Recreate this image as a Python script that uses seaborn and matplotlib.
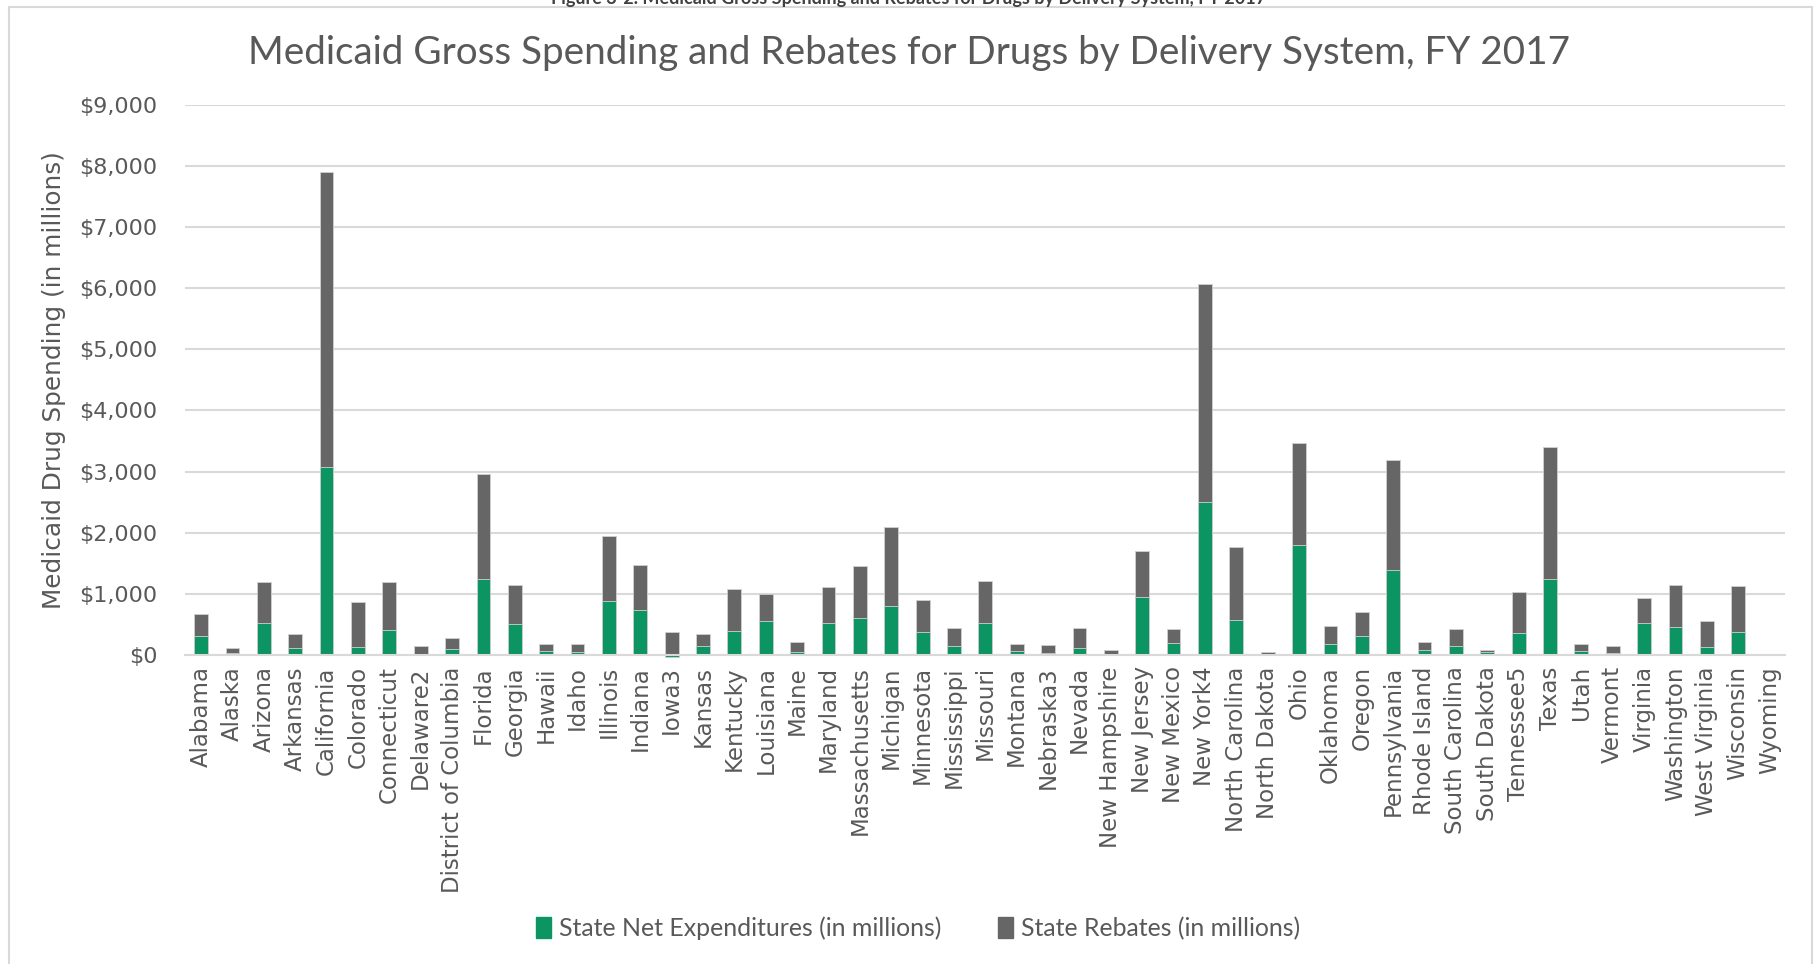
import numpy as np
import pandas as pd
import seaborn as sns
import matplotlib.pyplot as plt
from matplotlib.patches import Patch, Rectangle

states = ["Alabama", "Alaska", "Arizona", "Arkansas", "California", "Colorado",
          "Connecticut", "Delaware2", "District of Columbia", "Florida", "Georgia",
          "Hawaii", "Idaho", "Illinois", "Indiana", "Iowa3", "Kansas", "Kentucky",
          "Louisiana", "Maine", "Maryland", "Massachusetts", "Michigan", "Minnesota",
          "Mississippi", "Missouri", "Montana", "Nebraska3", "Nevada", "New Hampshire",
          "New Jersey", "New Mexico", "New York4", "North Carolina", "North Dakota",
          "Ohio", "Oklahoma", "Oregon", "Pennsylvania", "Rhode Island",
          "South Carolina", "South Dakota", "Tennessee5", "Texas", "Utah", "Vermont",
          "Virginia", "Washington", "West Virginia", "Wisconsin", "Wyoming"]

# state net expenditures (in millions)
net_exp = [313, 37, 522, 110, 3071, 129, 405, 18, 98, 1240, 510,
           61, 43, 878, 737, -37, 154, 399,
           559, 49, 522, 602, 798, 375,
           154, 528, 68, 37, 123, 12,
           952, 190, 2499, 571, 10,
           1793, 184, 313, 1388, 86,
           147, 49, 362, 1240, 68, 37,
           528, 454, 135, 381, 8]

# state rebates (in millions)
rebates = [350, 80, 669, 240, 4834, 743, 786, 123, 185, 1726, 638,
           117, 135, 1062, 743, 375, 196, 688,
           436, 160, 589, 847, 1290, 521,
           288, 675, 116, 123, 319, 68,
           755, 240, 3573, 1197, 33,
           1676, 295, 393, 1799, 129,
           283, 37, 676, 2162, 116, 117,
           405, 688, 424, 743, 17]

yticks = [0, 1000, 2000, 3000, 4000, 5000, 6000, 7000, 8000, 9000]

green = "#0c9462"
grey = "#666666"
txt = "#595959"

df = pd.DataFrame({"state": states, "net": net_exp, "rebates": rebates})
# rebates stack on top of the positive part of net expenditures
df["top"] = np.maximum(df["net"], 0) + df["rebates"]

sns.set_style("white")
plt.rcParams["font.family"] = ["DejaVu Sans"]

fig = plt.figure(figsize=(18.18, 9.64), dpi=100)
ax = fig.add_axes([0.102, 0.3205, 0.880, 0.571])

sns.barplot(data=df, x="state", y="top", color=grey, width=0.44,
            saturation=1, edgecolor="#d0d0d0", linewidth=0.6, ax=ax)
sns.barplot(data=df, x="state", y="net", color=green, width=0.44,
            saturation=1, edgecolor="#d0d0d0", linewidth=0.6, ax=ax)
for p in ax.patches:
    p.set_clip_on(False)

ax.set_ylim(0, 9000)
ax.set_xlim(-0.5, len(states) - 0.5)
ax.set_yticks(yticks)
ax.set_yticklabels(["${:,}".format(v) for v in yticks])
ax.yaxis.grid(True, color="#d9d9d9", linewidth=1.5)
ax.set_axisbelow(True)
for s in ["top", "right", "left"]:
    ax.spines[s].set_visible(False)
ax.spines["bottom"].set_color("#d9d9d9")
ax.spines["bottom"].set_linewidth(1.5)
ax.tick_params(axis="both", length=0, colors=txt, labelsize=16)
ax.tick_params(axis="x", labelsize=16.5, pad=8)
ax.tick_params(axis="y", pad=20)
plt.setp(ax.get_xticklabels(), rotation=90)
ax.set_xlabel("")
ax.set_ylabel("Medicaid Drug Spending (in millions)", fontsize=17.8, color=txt,
              labelpad=10)

fig.text(0.5, 0.945, "Medicaid Gross Spending and Rebates for Drugs by Delivery System, FY 2017",
         ha="center", va="center", fontsize=27.8, color=txt, family="Lato")
fig.text(0.5, 1 - 4 / 964,
         "Figure 3-2. Medicaid Gross Spending and Rebates for Drugs by Delivery System, FY 2017",
         ha="center", va="baseline", fontsize=13, fontweight="bold", color="#404040",
         family="Lato")

# chart area border
fig.patches.append(Rectangle((9 / 1818, -0.05), 1803 / 1818, 0.05 + 957 / 964,
                             transform=fig.transFigure, fill=False,
                             edgecolor="#d9d9d9", linewidth=1.5))

handles = [Patch(color=green, label="State Net Expenditures (in millions)"),
           Patch(color=grey, label="State Rebates (in millions)")]
fig.legend(handles=handles, loc="center", bbox_to_anchor=(0.505, 0.037), ncol=2,
           frameon=False, handlelength=0.6, handleheight=0.9, handletextpad=0.3,
           columnspacing=2.3, prop={"family": "Lato", "size": 17.9},
           labelcolor=txt)

fig.savefig("out.png", dpi=100)
